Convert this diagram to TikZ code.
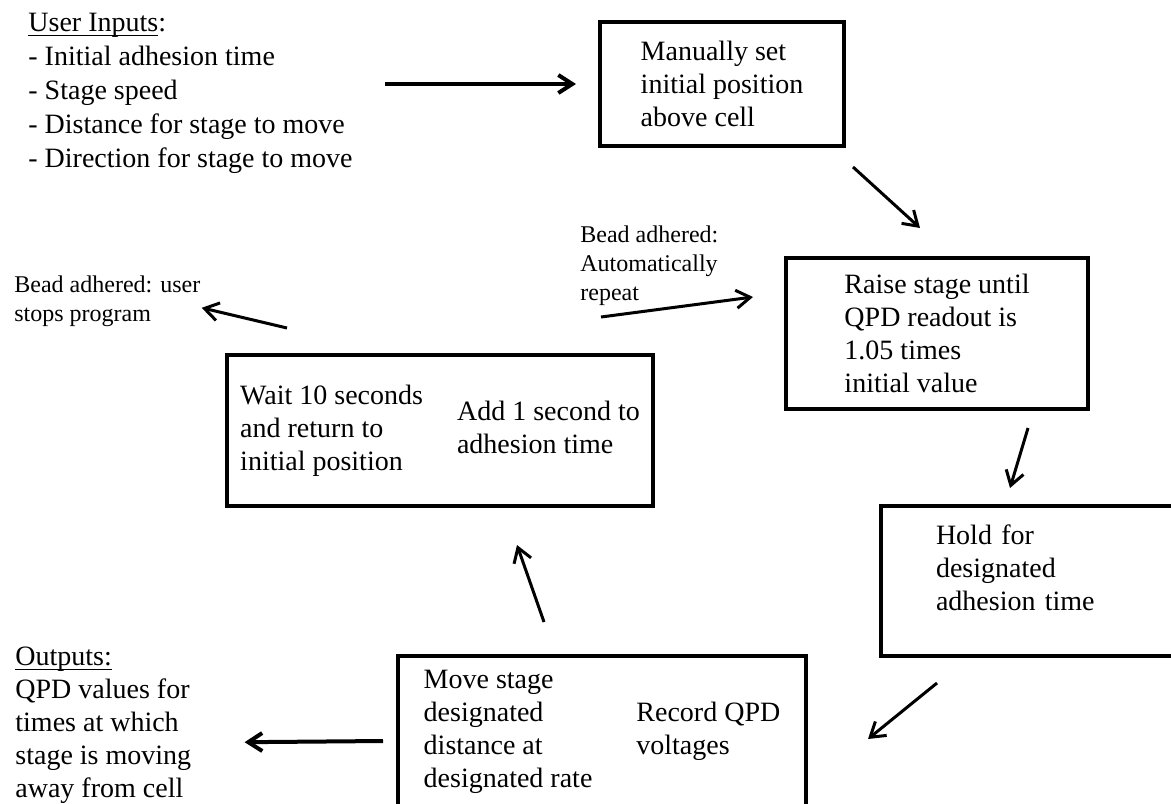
\documentclass[tikz,border=0pt]{standalone}
\usepackage{fontspec}
\setmainfont{Liberation Serif}
\usetikzlibrary{arrows.meta}

% underline sitting close to the baseline
\newcommand{\headline}[1]{\leavevmode\setbox0\hbox{#1}\rlap{\rule[-2.2pt]{\wd0}{0.7pt}}\box0}

\tikzset{
  box/.style={draw, line width=2pt, inner sep=0pt, outer sep=0pt},
  txt/.style={align=left, inner sep=0pt},
  note/.style={txt, font=\fontsize{12}{14.5}\selectfont},
  arr/.style={-{Straight Barb[length=7pt,width=9pt]}, line width=1.5pt},
  thickarr/.style={arr, line width=2pt},
}

\begin{document}
\begin{tikzpicture}[x=0.5pt, y=-0.5pt, font=\fontsize{14}{16.5}\selectfont]
    \useasboundingbox (0,0) rectangle (1171,803);

    \node[txt, anchor=north west, font=\fontsize{14}{17}\selectfont] (inputs) at (28,13)
      {\headline{User Inputs}:\\- Initial adhesion time\\- Stage speed\\- Distance for stage to move\\- Direction for stage to move};
    \node[txt, anchor=north west] (outputs) at (15,647)
      {\headline{Outputs:}\\QPD values for\\times at which\\stage is moving\\away from cell};

    \node[box, align=left, minimum width=122pt, minimum height=62pt] (manual) at (722,84)
      {Manually set\\initial position\\above cell};
    \node[box, align=left, minimum width=151pt, minimum height=75.5pt] (raise) at (937,333.5)
      {Raise stage until\\QPD readout is\\1.05 times\\initial value};
    \node[box, anchor=north west, align=left, minimum height=75pt, text width=140pt, inner xsep=27.5pt] (hold) at (881,506)
      {\raisebox{5pt}[\height][\depth]{\begin{tabular}{@{}l@{}}Hold for\\designated\\adhesion time\end{tabular}}};
    \node[box, minimum width=204pt, minimum height=75pt] (move) at (602,731)
      {\begin{tabular}{@{}l@{}}Move stage\\designated\\distance at\\designated rate\end{tabular}\hspace{22pt}%
       \begin{tabular}{@{}l@{}}Record QPD\\voltages\end{tabular}};
    \node[box, minimum width=213pt, minimum height=75.5pt] (wait) at (440,430.5)
      {\begin{tabular}{@{}l@{}}Wait 10 seconds\\and return to\\initial position\end{tabular}\hspace{17pt}%
       \begin{tabular}{@{}l@{}}Add 1 second to\\adhesion time\end{tabular}};

    \node[note, anchor=north west] (repeat) at (580,225) {Bead adhered:\\Automatically\\repeat};
    \node[note, anchor=north west] (stop) at (14,275) {Bead adhered: user\\stops program};

    \draw[thickarr, shorten <=16pt, shorten >=12pt] (inputs.east |- manual.west) -- (manual.west);
    \draw[arr] ([shift={(9,21)}]manual.south east) -- ([shift={(134,-30)}]raise.north west);
    \draw[arr] ([shift={(21,92)}]repeat.north west) -- ([shift={(-33,-36.5)}]raise.west);
    \draw[arr] ([shift={(91,19)}]raise.south) -- ([shift={(129,-18)}]hold.north west);
    \draw[arr] ([shift={(56,27)}]hold.south west) -- ([shift={(62,83)}]move.north east);
    \draw[thickarr] ([shift={(-15,10)}]move.west) -- ([shift={(53,16.5)}]outputs.east);
    \draw[arr] ([shift={(146,-34)}]move.north west) -- ([shift={(77,39)}]wait.south);
    \draw[arr] ([shift={(60,-27)}]wait.north west) -- ([shift={(1,7)}]stop.east);
\end{tikzpicture}
\end{document}
